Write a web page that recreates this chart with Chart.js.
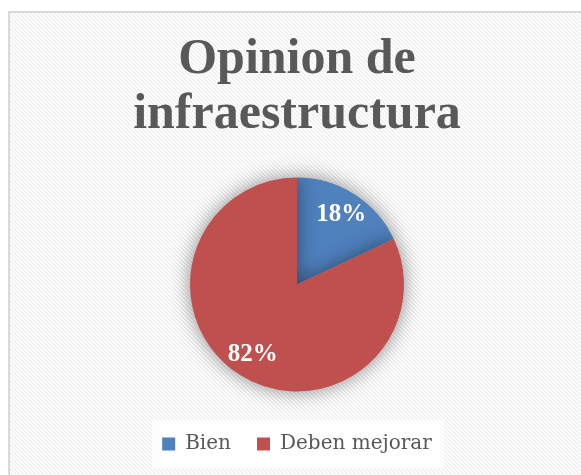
<!DOCTYPE html>
<html>
<head>
<meta charset="utf-8">
<script src="https://cdn.jsdelivr.net/npm/chart.js@4/dist/chart.umd.min.js"></script>
<style>
  html, body { margin: 0; padding: 0; background: #fff; overflow: hidden; }
  #frame {
    position: absolute; left: 8px; top: 11px; width: 600px; height: 490px;
    border: 2px solid #d9d9d9; box-sizing: border-box;
    background-color: #fff;
    background-image: url("data:image/svg+xml;utf8,<svg xmlns='http://www.w3.org/2000/svg' width='4' height='4' shape-rendering='crispEdges'><path fill='%23f0f0f0' d='M0 0h2v1H0zM1 1h2v1H1zM2 2h2v1H2zM3 3h1v1H3zM0 3h1v1H0z'/></svg>");
    background-size: 4px 4px;
  }
  #wrap { position: absolute; left: 0; top: 0; width: 581px; height: 475px; }
</style>
</head>
<body>
<div id="frame"></div>
<div id="wrap"><canvas id="chart"></canvas></div>
<script>
// chart data
const titleLines = ['Opinion de', 'infraestructura'];
const categories = ['Bien', 'Deben mejorar'];
const shares = [18, 82];
const sliceColors = ['#4F81BD', '#C0504D'];

const textGray = '#595959';

// soft glow behind the pie
const pieShadow = {
    id: 'pieShadow',
    beforeDatasetsDraw(chart) {
        const ctx = chart.ctx;
        ctx.save();
        ctx.shadowColor = 'rgba(0,0,0,0.45)';
        ctx.shadowBlur = 20;
        ctx.shadowOffsetX = 0;
        ctx.shadowOffsetY = 0;
    },
    afterDatasetsDraw(chart) {
        chart.ctx.restore();
    }
};

// white panel behind legend items
const legendPanel = {
    id: 'legendPanel',
    beforeDraw(chart) {
        const boxes = chart.legend && chart.legend.legendHitBoxes;
        if (!boxes || !boxes.length) return;
        const first = boxes[0];
        const last = boxes[boxes.length - 1];
        const ctx = chart.ctx;
        ctx.save();
        ctx.fillStyle = 'rgba(255,255,255,0.85)';
        ctx.fillRect(first.left - 10, first.top - 14, last.left + last.width - first.left + 22, first.height + 28);
        ctx.restore();
    }
};

// percentage labels inside slices
const sliceLabels = {
    id: 'sliceLabels',
    afterDatasetsDraw(chart) {
        const ctx = chart.ctx;
        const meta = chart.getDatasetMeta(0);
        const values = chart.data.datasets[0].data;
        const total = values.reduce((a, b) => a + b, 0);
        ctx.save();
        ctx.fillStyle = '#ffffff';
        ctx.font = 'bold 25px "Liberation Serif", serif';
        ctx.textAlign = 'center';
        ctx.textBaseline = 'middle';
        meta.data.forEach((arc, i) => {
            const p = arc.getProps(['x', 'y', 'startAngle', 'endAngle', 'outerRadius'], true);
            const mid = (p.startAngle + p.endAngle) / 2;
            const r = p.outerRadius * 0.77;
            const pct = Math.round(values[i] / total * 100) + '%';
            ctx.fillText(pct, p.x + Math.cos(mid) * r, p.y + Math.sin(mid) * r);
        });
        ctx.restore();
    }
};

new Chart(document.getElementById('chart'), {
    type: 'pie',
    data: {
        labels: categories,
        datasets: [{
            data: shares,
            backgroundColor: sliceColors,
            borderWidth: 0,
            radius: 107
        }]
    },
    options: {
        responsive: true,
        maintainAspectRatio: false,
        animation: false,
        layout: {
            padding: { left: 13, right: 0, top: 11, bottom: 11 }
        },
        plugins: {
            title: {
                display: true,
                text: titleLines,
                color: textGray,
                font: { family: '"Liberation Serif", serif', size: 50, weight: 'bold', lineHeight: 1.1 },
                padding: { top: 21.5, bottom: 18.5 }
            },
            legend: {
                position: 'bottom',
                labels: {
                    color: textGray,
                    font: { family: '"DejaVu Serif", serif', size: 20 },
                    boxWidth: 13,
                    boxHeight: 13,
                    padding: 26
                }
            },
            tooltip: { enabled: false }
        }
    },
    plugins: [legendPanel, pieShadow, sliceLabels]
});
</script>
</body>
</html>
